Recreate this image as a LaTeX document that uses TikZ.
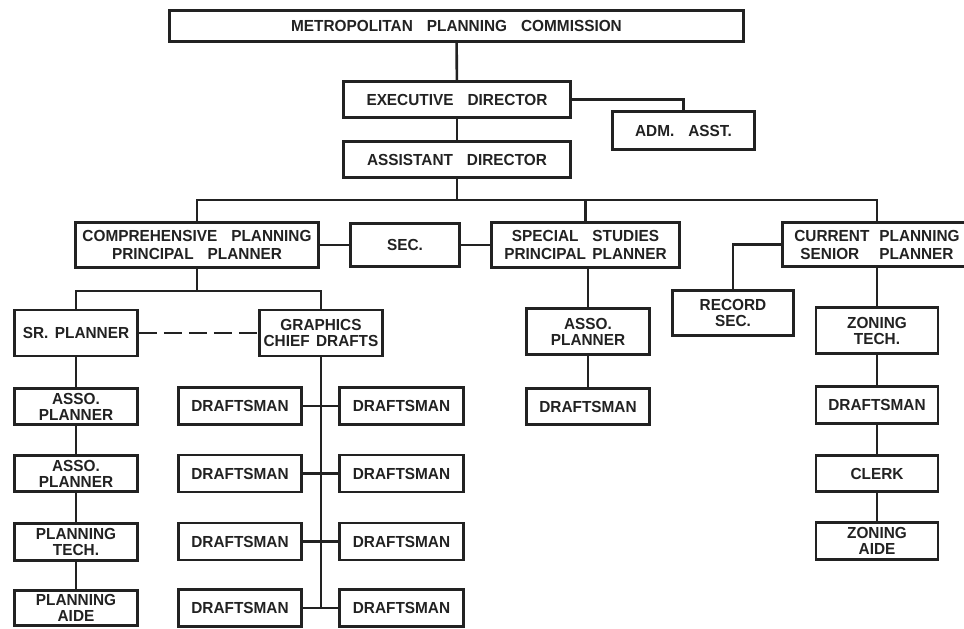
\documentclass[tikz,border=0pt]{standalone}
\usepackage{fontspec}
\setmainfont{Liberation Sans}[FakeStretch=0.96,WordSpace=1.5]
\definecolor{ink}{RGB}{34,34,34}
\newcommand{\wgap}{\hspace{14pt}}
\tikzset{
  post/.style={draw=ink, text=ink, line width=2.6pt, inner sep=0pt, align=center, fill=white,
    font=\fontsize{16}{16}\selectfont\bfseries},
  link/.style={draw=ink, line width=2.6pt},
}

\begin{document}
\begin{tikzpicture}[x=1pt,y=-1pt]
\clip (0,0) rectangle (964,629);
\fill[white] (0,0) rectangle (964,629);
% top of the chart
\node[post, minimum width=574pt, minimum height=31pt] (mpc) at (456.5,26) {METROPOLITAN\wgap PLANNING\wgap COMMISSION};
\node[post, minimum width=227pt, minimum height=36pt] (exe) at (457,99.5) {EXECUTIVE\wgap DIRECTOR};
\node[post, minimum width=142pt, minimum height=38pt] (adm) at (683.5,130.5) {ADM.\wgap ASST.};
\node[post, minimum width=227pt, minimum height=36pt] (asd) at (457,159.5) {ASSISTANT\wgap DIRECTOR};
% divisions
\node[post, minimum width=243pt, minimum height=45pt] (comp) at (197,245) {COMPREHENSIVE\wgap PLANNING\\[2pt]PRINCIPAL\wgap PLANNER};
\node[post, minimum width=109pt, minimum height=43pt] (sec) at (405,245) {SEC.};
\node[post, minimum width=188pt, minimum height=45pt] (spec) at (585.5,245) {SPECIAL\wgap STUDIES\\[2pt]PRINCIPAL PLANNER};
\node[post, minimum width=189pt, minimum height=44pt] (curr) at (877,244.5) {CURRENT\hspace{10pt}PLANNING\\[2pt]SENIOR\hspace{20pt}PLANNER};
% current planning
\node[post, minimum width=121pt, minimum height=45pt] (rec) at (733,313) {RECORD\\SEC.};
\node[post, minimum width=122pt, minimum height=46pt] (zt) at (877,330.5) {ZONING\\TECH.};
\node[post, minimum width=122pt, minimum height=37pt] (cd) at (877,405) {DRAFTSMAN};
\node[post, minimum width=122pt, minimum height=36pt] (clk) at (877,473.5) {CLERK};
\node[post, minimum width=122pt, minimum height=37pt] (za) at (877,541) {ZONING\\AIDE};
% special studies
\node[post, minimum width=123pt, minimum height=46pt] (sa) at (588,331.5) {ASSO.\\PLANNER};
\node[post, minimum width=123pt, minimum height=36pt] (sd) at (588,406.5) {DRAFTSMAN};
% comprehensive planning
\node[post, minimum width=123pt, minimum height=46pt] (sr) at (76,333) {SR. PLANNER};
\node[post, minimum width=123pt, minimum height=46pt] (gr) at (321,333) {GRAPHICS\\CHIEF DRAFTS};
\node[post, minimum width=123pt, minimum height=36pt] (ap1) at (76,406.5) {ASSO.\\PLANNER};
\node[post, minimum width=123pt, minimum height=36pt] (ap2) at (76,473.5) {ASSO.\\PLANNER};
\node[post, minimum width=123pt, minimum height=37pt] (pt) at (76,542) {PLANNING\\TECH.};
\node[post, minimum width=123pt, minimum height=35pt] (pa) at (76,608) {PLANNING\\AIDE};
\foreach \y [count=\i] in {406,473.5,541.5,608}{
  \node[post, minimum width=123pt, minimum height=37pt] (l\i) at (240,\y) {DRAFTSMAN};
  \node[post, minimum width=124pt, minimum height=37pt] (r\i) at (401.5,\y) {DRAFTSMAN};
}
% connectors
\coordinate (bus) at (457,200);
\coordinate (bus2) at (197,291);
\draw[link] (mpc) -- (exe);
\draw[link] (exe.east) -| (adm);
\draw[link] (exe) -- (asd);
\draw[link] (asd) -- (bus);
\draw[link] (comp) |- (bus) -| (curr);
\draw[link] (spec) -- (spec |- bus);
\draw[link] (comp) -- (sec);
\draw[link] (sec) -- (spec);
\draw[link] (curr.west) -| (rec);
\draw[link] (curr) -- (zt) -- (cd) -- (clk) -- (za);
\draw[link] (sa) -- (sa |- spec.south);
\draw[link] (sa) -- (sd);
\draw[link] (comp) -- (bus2);
\draw[link] (sr) |- (bus2) -| (gr);
\draw[link, dash pattern=on 18pt off 7pt] (sr) -- (gr);
\draw[link] (sr) -- (ap1) -- (ap2) -- (pt) -- (pa);
\draw[link] (gr) -- (gr |- r4);
\foreach \i in {1,...,4}
\draw[link] (l\i) -- (r\i);
\end{tikzpicture}
\end{document}
